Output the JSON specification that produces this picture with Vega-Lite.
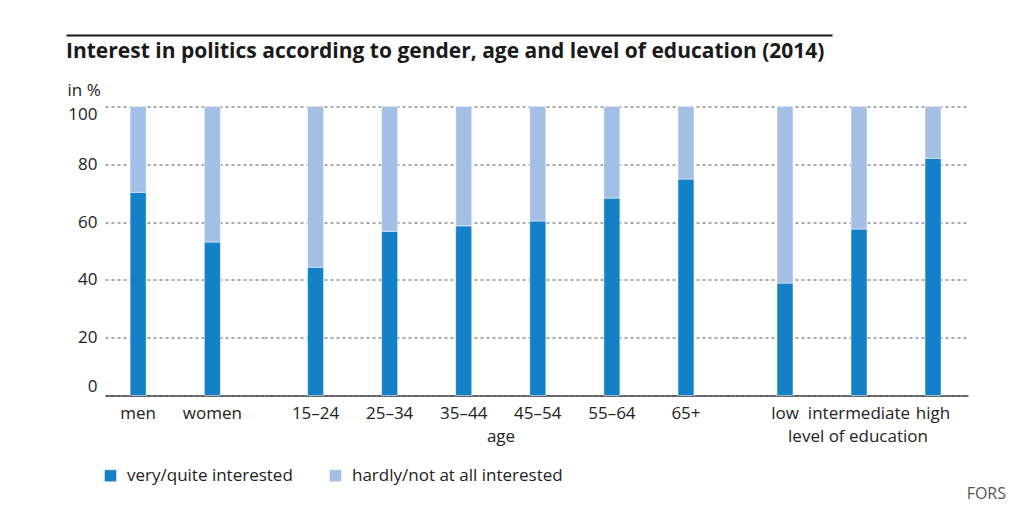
{
  "$schema": "https://vega.github.io/schema/vega-lite/v6.json",
  "background": "white",
  "padding": {"left": 66, "top": 35, "right": 10, "bottom": 5},
  "datasets": {
    "d": [
      {"group": "gender", "cat": "men", "type": "very/quite interested", "value": 70.3},
      {"group": "gender", "cat": "men", "type": "hardly/not at all interested", "value": 29.7},
      {"group": "gender", "cat": "women", "type": "very/quite interested", "value": 53.1},
      {"group": "gender", "cat": "women", "type": "hardly/not at all interested", "value": 46.9},
      {"group": "age", "cat": "15–24", "type": "very/quite interested", "value": 44.4},
      {"group": "age", "cat": "15–24", "type": "hardly/not at all interested", "value": 55.6},
      {"group": "age", "cat": "25–34", "type": "very/quite interested", "value": 56.8},
      {"group": "age", "cat": "25–34", "type": "hardly/not at all interested", "value": 43.2},
      {"group": "age", "cat": "35–44", "type": "very/quite interested", "value": 58.7},
      {"group": "age", "cat": "35–44", "type": "hardly/not at all interested", "value": 41.3},
      {"group": "age", "cat": "45–54", "type": "very/quite interested", "value": 60.4},
      {"group": "age", "cat": "45–54", "type": "hardly/not at all interested", "value": 39.6},
      {"group": "age", "cat": "55–64", "type": "very/quite interested", "value": 68.3},
      {"group": "age", "cat": "55–64", "type": "hardly/not at all interested", "value": 31.7},
      {"group": "age", "cat": "65+", "type": "very/quite interested", "value": 74.9},
      {"group": "age", "cat": "65+", "type": "hardly/not at all interested", "value": 25.1},
      {"group": "education", "cat": "low", "type": "very/quite interested", "value": 38.9},
      {"group": "education", "cat": "low", "type": "hardly/not at all interested", "value": 61.1},
      {"group": "education", "cat": "intermediate", "type": "very/quite interested", "value": 57.6},
      {"group": "education", "cat": "intermediate", "type": "hardly/not at all interested", "value": 42.4},
      {"group": "education", "cat": "high", "type": "very/quite interested", "value": 82.1},
      {"group": "education", "cat": "high", "type": "hardly/not at all interested", "value": 17.9}
    ]
  },
  "config": {
    "font": "Open Sans",
    "view": {"stroke": null},
    "axis": {
      "labelFont": "Open Sans", "labelFontSize": 17, "labelColor": "#222",
      "titleFont": "Open Sans", "titleFontSize": 17, "titleFontWeight": "normal", "titleColor": "#222",
      "ticks": false
    },
    "axisX": {"domainColor": "#444", "domainWidth": 1.5, "labelAngle": 0, "labelPadding": 10, "titlePadding": 7, "grid": false},
    "axisY": {"domain": false, "grid": true, "gridDash": [3, 3], "gridColor": "#555", "gridWidth": 1, "labelPadding": 8},
    "legend": {"padding": 0, "labelFont": "Open Sans", "labelFontSize": 17, "labelColor": "#222", "labelLimit": 0, "symbolType": "square", "symbolSize": 144, "symbolStrokeWidth": 0, "labelOffset": 8, "columnPadding": 34},
    "bar": {"stroke": "white", "strokeWidth": 0.5}
  },
  "title": {"text": "FORS", "orient": "bottom", "anchor": "end", "font": "Open Sans", "fontSize": 16, "fontWeight": "normal", "color": "#555", "offset": 2, "dx": 38},
  "vconcat": [
    {
      "width": 766,
      "height": 1,
      "data": {"values": []},
      "mark": "point",
      "encoding": {
        "x": {"field": "v", "type": "quantitative", "scale": {"domain": [0, 1]}, "axis": {"orient": "top", "position": -39, "labels": false, "ticks": false, "grid": false, "title": null, "domain": true, "domainColor": "#1a1a1a", "domainWidth": 2}}
      },
      "title": {"text": "Interest in politics according to gender, age and level of education (2014)", "orient": "bottom", "anchor": "start", "font": "Open Sans", "fontSize": 21, "fontWeight": "bold", "color": "#1a1a1a", "baseline": "alphabetic", "offset": 22}
    },
    {
      "spacing": 0,
      "resolve": {"scale": {"color": "shared"}},
      "hconcat": [
        {
          "width": 158.5,
          "height": 289,
          "data": {"name": "d"},
          "transform": [{"filter": "datum.group === 'gender'"}],
          "mark": "bar",
          "encoding": {
            "x": {"field": "cat", "type": "nominal", "sort": ["men", "women"], "scale": {"paddingInner": 0.7838, "paddingOuter": 0.4595, "align": 0.368}, "axis": {"title": null}},
            "y": {"field": "value", "type": "quantitative", "stack": "zero", "scale": {"domain": [0, 100]}, "axis": {"values": [0, 20, 40, 60, 80, 100], "labelFlush": true, "title": "in %", "titleAngle": 0, "titleAlign": "left", "titleBaseline": "alphabetic", "titleX": -38, "titleY": -11}},
            "color": {"field": "type", "type": "nominal", "scale": {"domain": ["very/quite interested", "hardly/not at all interested"], "range": ["#1380c7", "#a3bfe6"]}, "legend": {"title": null, "orient": "none", "direction": "horizontal", "legendX": -3, "legendY": 432}},
            "order": {"field": "type", "sort": "descending"}
          }
        },
        {
          "width": 470.5,
          "height": 289,
          "data": {"name": "d"},
          "transform": [{"filter": "datum.group === 'age'"}],
          "mark": "bar",
          "encoding": {
            "x": {"field": "cat", "type": "nominal", "sort": ["15–24", "25–34", "35–44", "45–54", "55–64", "65+"], "scale": {"paddingInner": 0.7838, "paddingOuter": 0.5676, "align": 0.518}, "axis": {"title": "age", "titleX": 236.5}},
            "y": {"field": "value", "type": "quantitative", "stack": "zero", "scale": {"domain": [0, 100]}, "axis": {"values": [0, 20, 40, 60, 80, 100], "labels": false, "title": null}},
            "color": {"field": "type", "type": "nominal", "scale": {"domain": ["very/quite interested", "hardly/not at all interested"], "range": ["#1380c7", "#a3bfe6"]}, "legend": {"title": null, "orient": "none", "direction": "horizontal", "legendX": -3, "legendY": 432}},
            "order": {"field": "type", "sort": "descending"}
          }
        },
        {
          "width": 233,
          "height": 289,
          "data": {"name": "d"},
          "transform": [{"filter": "datum.group === 'education'"}],
          "mark": "bar",
          "encoding": {
            "x": {"field": "cat", "type": "nominal", "sort": ["low", "intermediate", "high"], "scale": {"paddingInner": 0.7838, "paddingOuter": 0.466, "align": 0.609}, "axis": {"title": "level of education", "titleX": 122.5}},
            "y": {"field": "value", "type": "quantitative", "stack": "zero", "scale": {"domain": [0, 100]}, "axis": {"values": [0, 20, 40, 60, 80, 100], "labels": false, "title": null}},
            "color": {"field": "type", "type": "nominal", "scale": {"domain": ["very/quite interested", "hardly/not at all interested"], "range": ["#1380c7", "#a3bfe6"]}, "legend": {"title": null, "orient": "none", "direction": "horizontal", "legendX": -3, "legendY": 432}},
            "order": {"field": "type", "sort": "descending"}
          }
        }
      ]
    }
  ],
  "spacing": 19.5
}
